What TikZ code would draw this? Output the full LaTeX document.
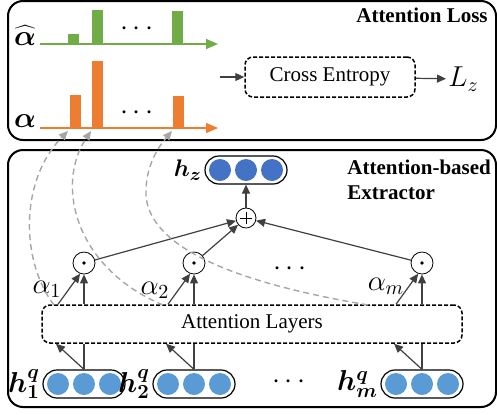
\documentclass[tikz,border=0pt]{standalone}
\usepackage{bm}
\usepackage{fontspec}
\setmainfont{Liberation Serif}
\usetikzlibrary{arrows.meta,positioning,calc}

\definecolor{lossgreen}{HTML}{70AD47}
\definecolor{attorange}{HTML}{ED7D31}
\definecolor{qblue}{HTML}{5B9BD5}
\definecolor{zblue}{HTML}{4472C4}
\definecolor{arrgray}{HTML}{404040}
\definecolor{linkgray}{HTML}{A6A6A6}

\begin{document}
\begin{tikzpicture}[x=0.5pt, y=-0.5pt,
    font=\fontsize{10.5}{12.5}\selectfont,
    panel/.style={draw, line width=1pt, rounded corners=7.5pt},
    title/.style={font=\fontsize{10.5}{12.5}\selectfont\bfseries, inner sep=0pt},
    dbox/.style={draw, dash pattern=on 2pt off 1pt, line width=0.75pt, rounded corners=4pt, inner sep=0pt},
    bar/.style={inner sep=0pt, minimum width=5.5pt, anchor=south west},
    vec/.style={draw, line width=0.6pt, rounded corners=7pt, minimum width=41pt, minimum height=14pt, inner sep=0pt},
    cell/.style={circle, minimum size=11pt, inner sep=0pt},
    op/.style={circle, draw, line width=0.4pt, inner sep=0pt, minimum size=11pt,
        path picture={\fill (path picture bounding box.center) circle (0.9pt);}},
    sumop/.style={circle, draw, line width=0.4pt, inner sep=0pt, minimum size=10pt,
        path picture={\draw[line width=0.4pt]
            ([xshift=-3pt]path picture bounding box.center) -- ([xshift=3pt]path picture bounding box.center)
            ([yshift=-3pt]path picture bounding box.center) -- ([yshift=3pt]path picture bounding box.center);}},
    mlbl/.style={font=\fontsize{14}{16}\selectfont, inner sep=1pt},
    dots/.style={font=\fontsize{14}{16}\selectfont, inner sep=0pt},
    axis/.style={line width=0.7pt, -{Triangle[length=6pt, width=5pt]}},
    arrow/.style={arrgray, line width=0.6pt, -{Triangle[length=4.5pt, width=4pt]}},
    link/.style={linkgray, line width=0.7pt, dash pattern=on 3pt off 2pt, -{Triangle[length=4.5pt, width=4pt]}}
]

    \useasboundingbox (0,0) rectangle (497,414);

    % Panels
    \draw[panel] (8,1) rectangle (496,140);
    \draw[panel] (8,150) rectangle (496,407);
    \node[title, anchor=east] (losstitle) at (488,15) {Attention Loss};
    \node[title, anchor=west, align=left] (exttitle) at (347,180) {Attention-based\\Extractor};

    % Target distribution
    \coordinate (gstart) at (40,44);
    \coordinate (gend) at (218,44);
    \draw[axis, lossgreen] (gstart) -- (gend);
    \node[bar, fill=lossgreen, minimum height=5pt] (gb1) at (68,44) {};
    \node[bar, fill=lossgreen, minimum height=17pt] (gb2) at (92,44) {};
    \node[bar, fill=lossgreen, minimum height=16.5pt] (gb3) at (172,44) {};
    \node[dots] (gdots) at (137,29) {$\cdots$};
    \node[mlbl, anchor=base] (ahat) at (25,45) {$\widehat{\bm{\alpha}}$};

    % Predicted distribution
    \coordinate (ostart) at (40,128);
    \coordinate (oend) at (218,128);
    \draw[axis, attorange] (ostart) -- (oend);
    \node[bar, fill=attorange, minimum height=16.5pt] (ob1) at (70,128) {};
    \node[bar, fill=attorange, minimum height=33.5pt] (ob2) at (92,128) {};
    \node[bar, fill=attorange, minimum height=16pt] (ob3) at (173,128) {};
    \node[dots] (odots) at (137,113) {$\cdots$};
    \node[mlbl, anchor=base] (alpha) at (25,127) {$\bm{\alpha}$};

    % Loss
    \node[dbox, minimum width=85pt, minimum height=20pt] (ce) at (330,77) {Cross Entropy};
    \coordinate (cein) at (220,77);
    \draw[arrow] (cein) -- (ce);
    \node[mlbl, anchor=west] (lz) at (446,79) {$L_z$};
    \draw[arrow] (ce) -- (lz);

    % Attention layers
    \node[dbox, minimum width=210pt, minimum height=19pt] (att) at (252,324) {Attention Layers};

    % Query vectors
    \node[vec] (hq1) at (84,384) {};
    \node[vec] (hq2) at (194,384) {};
    \node[vec] (hqm) at (422,384) {};
    \foreach \v in {hq1,hq2,hqm}
        \foreach \d [count=\k] in {-26,0,26}
            \node[cell, fill=qblue] (\v-\k) at ($(\v)+(\d,0)$) {};
    \node[mlbl, anchor=east] (lq1) at (hq1.west) {$\bm{h_1^q}$};
    \node[mlbl, anchor=east] (lq2) at (hq2.west) {$\bm{h_2^q}$};
    \node[mlbl, anchor=east] (lqm) at (hqm.west) {$\bm{h_m^q}$};
    \node[dots] (qdots) at (289,382) {$\cdots$};

    \foreach \v in {hq1,hq2,hqm} {
        \draw[arrgray, line width=0.6pt] (\v.north) -- (\v.north |- att.south);
        \draw[arrow] (\v.north) -- ($(\v.north |- att.south)+(-28,0)$);
    }

    % Gates
    \node[op] (o1) at (84,263) {};
    \node[op] (o2) at (194,263) {};
    \node[op] (om) at (422,263) {};
    \foreach \g in {o1,o2,om} {
        \draw[arrow] (\g.south |- att.north) -- (\g);
        \draw[arrow] ($(\g.south |- att.north)+(-26,0)$) -- (\g.-110);
    }
    \node[mlbl] (al1) at (47,289) {$\alpha_1$};
    \node[mlbl] (al2) at (155,290) {$\alpha_2$};
    \node[mlbl] (alm) at (386,286) {$\alpha_m$};
    \node[dots] (odots2) at (290,269) {$\cdots$};

    % Summary vector
    \node[sumop] (plus) at (246,218) {};
    \node[vec] (hz) at (246,170) {};
    \foreach \d [count=\k] in {-26,0,26}
        \node[cell, fill=zblue] (hz-\k) at ($(hz)+(\d,0)$) {};
    \node[mlbl, anchor=east, font=\fontsize{13}{15}\selectfont] (lhz) at (hz.west) {$\bm{h_z}$};
    \foreach \g in {o1,o2,om}
        \draw[arrow] (\g) -- (plus);
    \draw[arrow] (plus) -- (hz);

    % Weight links
    \coordinate (s1) at (54,305);
    \coordinate (t1) at ($(ob1.south west)+(-2,3)$);
    \draw[link] (s1) .. controls (20,260) and (20,180) .. (t1);
    \coordinate (s2) at (163,305);
    \coordinate (t2) at ($(ob2.south west)+(-1,3)$);
    \draw[link] (s2) .. controls (75,268) and (55,185) .. (t2);
    \coordinate (s3) at (368,305);
    \coordinate (t3) at ($(ob3.south west)+(-1,3)$);
    \draw[link] (s3) .. controls (280,290) and (150,260) .. (146,195) .. controls (145,165) and (160,145) .. (t3);

\end{tikzpicture}
\end{document}
